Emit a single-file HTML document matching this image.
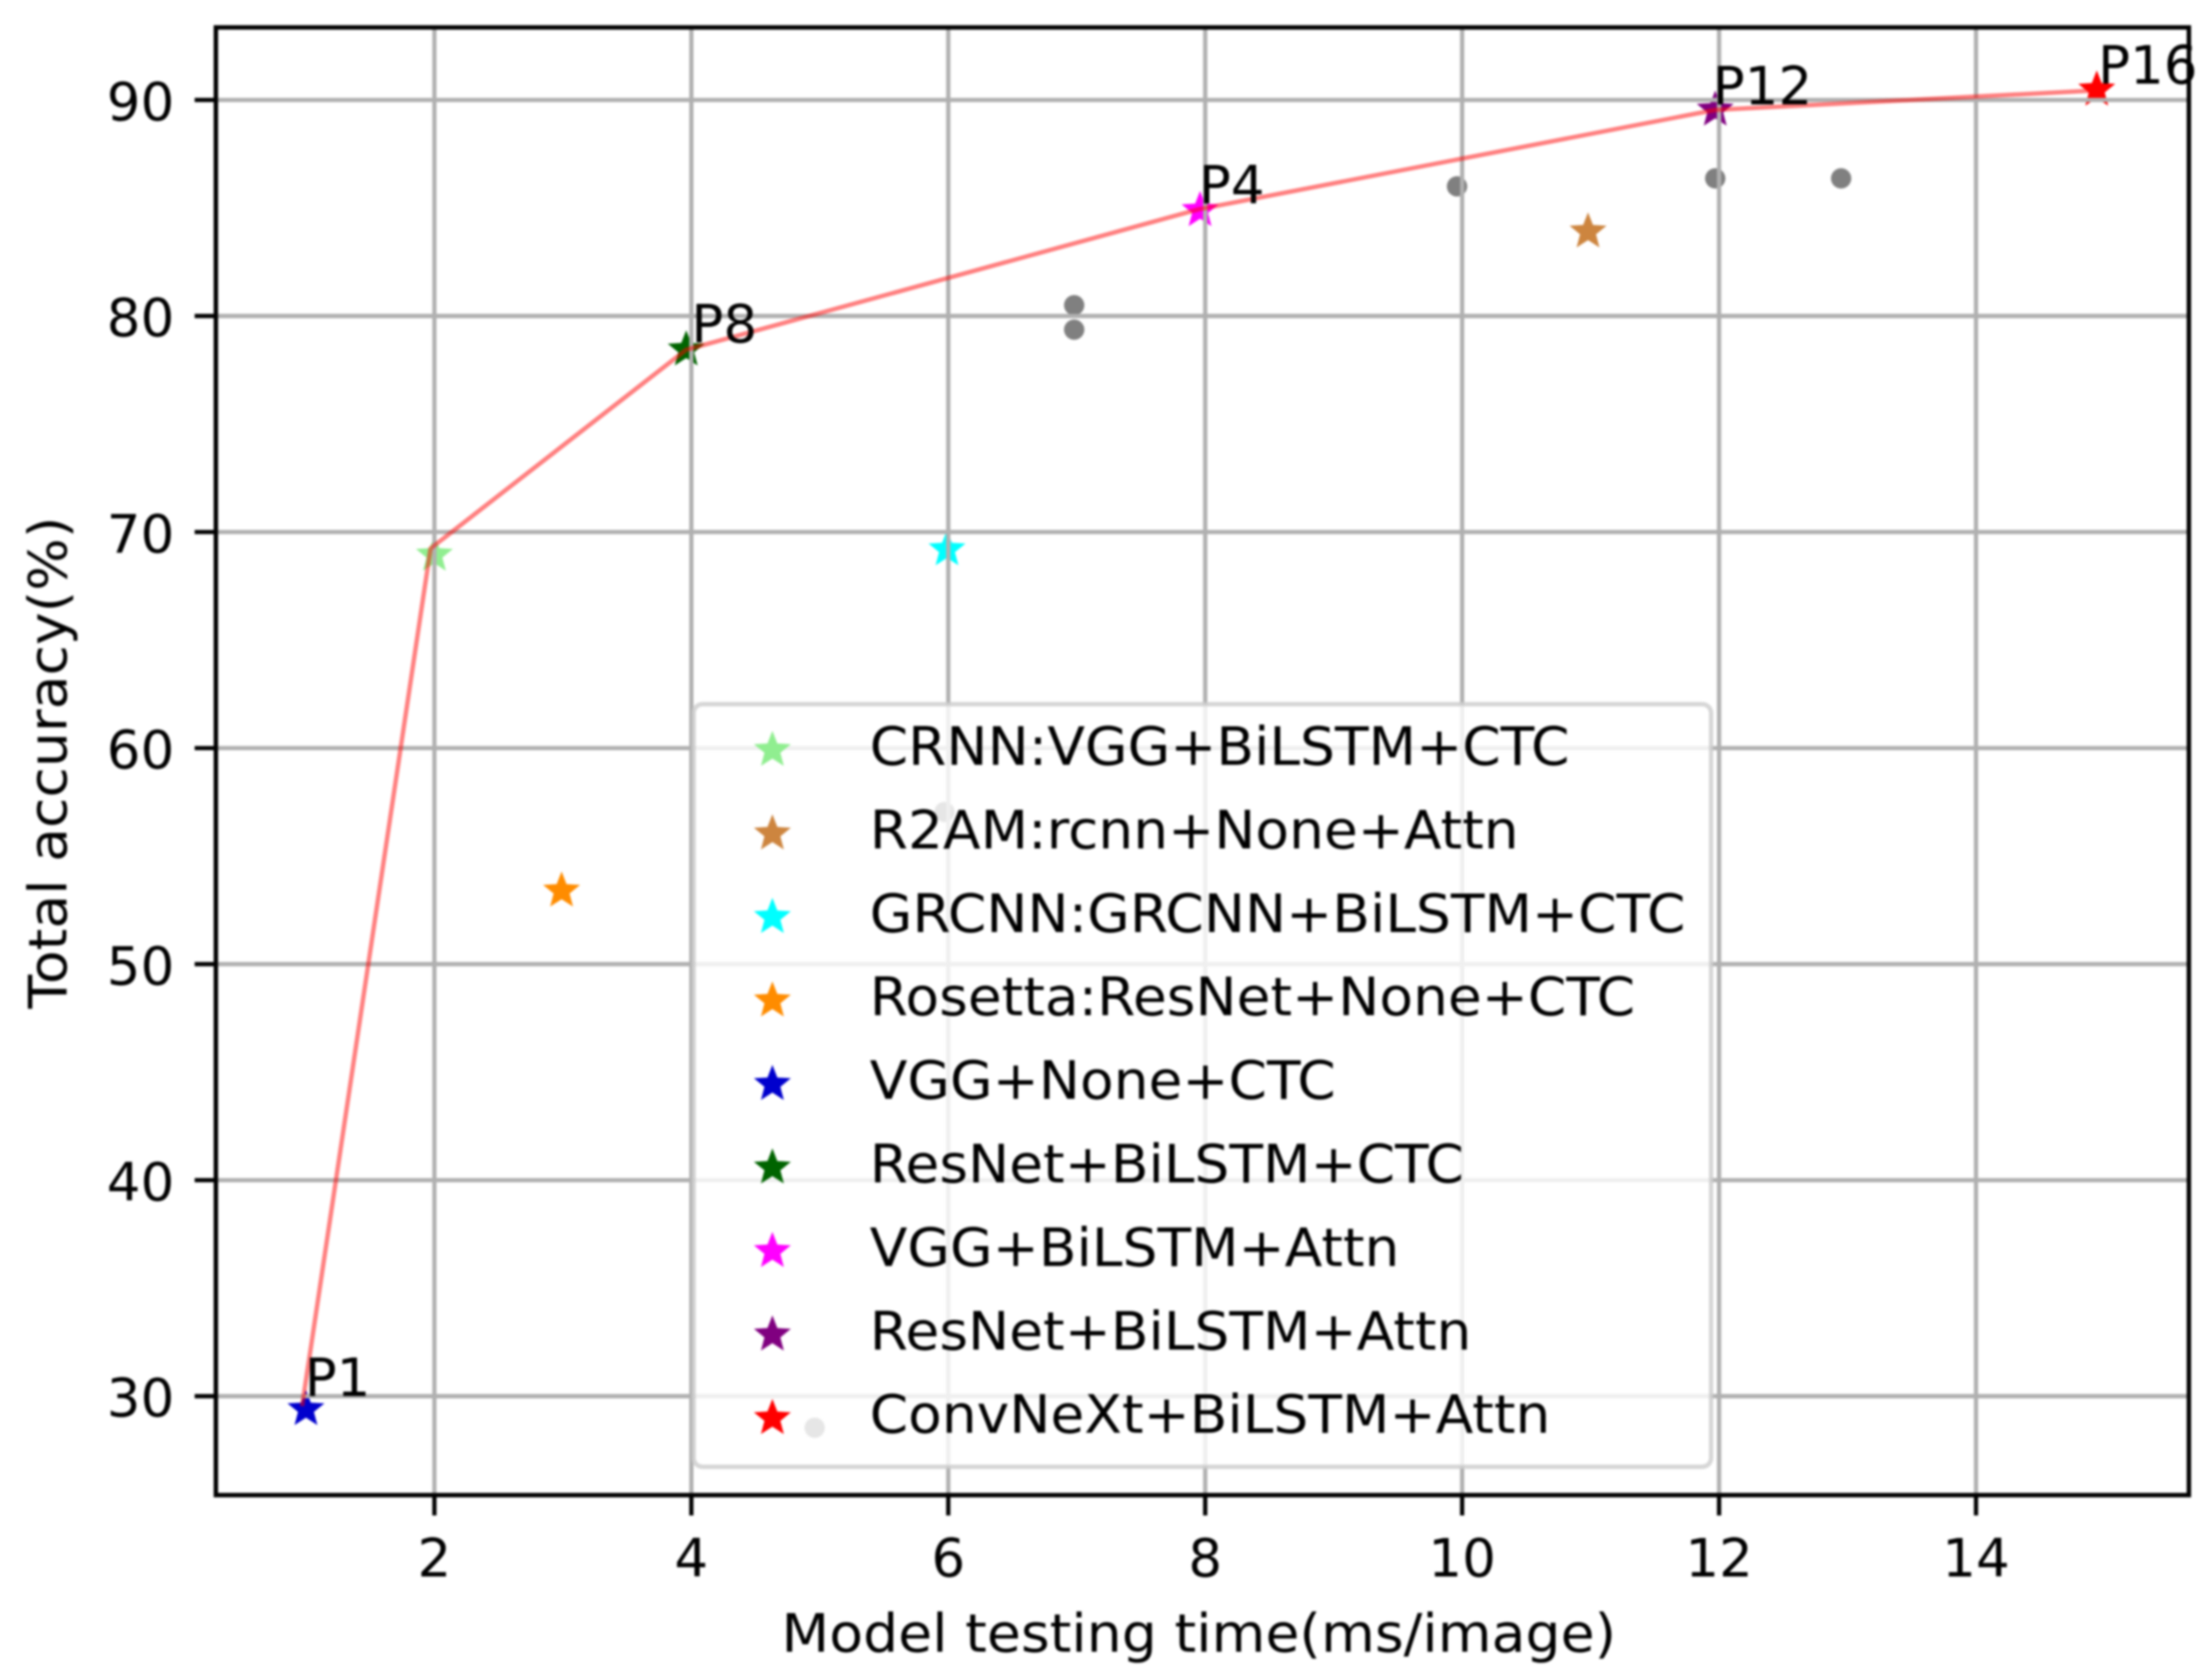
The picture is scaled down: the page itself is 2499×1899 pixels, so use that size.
<!DOCTYPE html>
<html lang="en">
<head>
<meta charset="utf-8">
<title>Model testing time vs total accuracy</title>
<style>
  html, body { margin: 0; padding: 0; background: #ffffff; }
  svg { display: block; }
  text { font-family: "DejaVu Sans", "Liberation Sans", sans-serif; font-size: 60px; fill: #000000; }
</style>
</head>
<body>
<svg id="chart" xmlns="http://www.w3.org/2000/svg" width="2499" height="1899" viewBox="0 0 2499 1899">
  <rect x="0" y="0" width="2499" height="1899" fill="#ffffff"></rect>
  <g id="root" style="filter: blur(1.3px)"></g>
</svg>
<script>
// ---- chart data ----
const modelNames = ["CRNN:VGG+BiLSTM+CTC", "R2AM:rcnn+None+Attn", "GRCNN:GRCNN+BiLSTM+CTC", "Rosetta:ResNet+None+CTC", "VGG+None+CTC", "ResNet+BiLSTM+CTC", "VGG+BiLSTM+Attn", "ResNet+BiLSTM+Attn", "ConvNeXt+BiLSTM+Attn"];
const modelColors = ["#90ee90", "#cd853f", "#00ffff", "#ff8c00", "#0000cd", "#006400", "#ff00ff", "#800080", "#ff0000"];
const modelTimes = [2.0, 10.98, 5.99, 2.99, 1.0, 3.96, 7.96, 11.97, 14.94];
const modelAccuracy = [68.94, 83.9, 69.19, 53.39, 29.39, 78.44, 84.89, 89.54, 90.47];

const otherTimes = [6.98, 6.98, 9.96, 11.97, 12.95, 4.96, 5.97];
const otherAccuracy = [80.5, 79.37, 86.0, 86.37, 86.37, 28.54, 57.04];

const frontierTimes = [0.97, 1.97, 3.96, 7.95, 11.97, 14.93];
const frontierAccuracy = [29.54, 69.24, 78.44, 84.94, 89.54, 90.44];

const pointLabels = ["P1", "P8", "P4", "P12", "P16"];
const pointLabelTimes = [0.99, 4.0, 7.95, 11.95, 14.95];
const pointLabelAccuracy = [30.0, 78.78, 85.21, 89.79, 90.75];

const xTickValues = [2, 4, 6, 8, 10, 12, 14];
const yTickValues = [30, 40, 50, 60, 70, 80, 90];
const xAxisTitle = "Model testing time(ms/image)";
const yAxisTitle = "Total accuracy(%)";

// ---- axis functions ----
function xScale(v) { return 491 + (v - 2) * 145.2; }
function yScale(v) { return 113 + (90 - v) * 24.42; }

const SVG_NS = "http://www.w3.org/2000/svg";
const root = document.getElementById("root");
const plot = { left: 244, right: 2474, top: 31, bottom: 1690 };

function make(tag, attrs, parent) {
  const el = document.createElementNS(SVG_NS, tag);
  for (const k in attrs) el.setAttribute(k, attrs[k]);
  (parent || root).appendChild(el);
  return el;
}
function starPoints(cx, cy, R) {
  const pts = [];
  const r = R * 0.43;
  for (let i = 0; i < 10; i++) {
    const a = -Math.PI / 2 + i * Math.PI / 5;
    const rad = i % 2 === 0 ? R : r;
    pts.push((cx + rad * Math.cos(a)).toFixed(2) + "," + (cy + rad * Math.sin(a)).toFixed(2));
  }
  return pts.join(" ");
}
const STAR_R = 22;

// scatter sits beneath the grid
otherTimes.forEach(function (t, i) {
  const dot = make("circle", { cx: xScale(t), cy: yScale(otherAccuracy[i]), r: 11.5, fill: "#808080" });
  
  
});
modelNames.forEach(function (name, i) {
  const star = make("polygon", { points: starPoints(xScale(modelTimes[i]), yScale(modelAccuracy[i]), STAR_R), fill: modelColors[i] });
  
  
});

// grid lines
xTickValues.forEach(function (v) {
  const g = make("line", { x1: xScale(v), x2: xScale(v), y1: plot.top, y2: plot.bottom, stroke: "#b0b0b0", "stroke-width": 4.8 });
  
  
});
yTickValues.forEach(function (v) {
  const g = make("line", { x1: plot.left, x2: plot.right, y1: yScale(v), y2: yScale(v), stroke: "#b0b0b0", "stroke-width": 4.8 });
  
  
});

// frontier line
const frontier = make("polyline", {
  points: frontierTimes.map(function (t, i) { return xScale(t) + "," + yScale(frontierAccuracy[i]); }).join(" "),
  fill: "none", stroke: "#ff0000", "stroke-opacity": 0.5, "stroke-width": 5, "stroke-linejoin": "round"
});



// ticks and tick labels
xTickValues.forEach(function (v) {
  const t = make("line", { x1: xScale(v), x2: xScale(v), y1: plot.bottom, y2: plot.bottom + 23, stroke: "#000000", "stroke-width": 4.8 });
  
  
  const l = make("text", { x: xScale(v), y: 1782, "text-anchor": "middle" });
  l.textContent = String(v);
  
  
});
yTickValues.forEach(function (v) {
  const t = make("line", { x1: plot.left - 24, x2: plot.left, y1: yScale(v), y2: yScale(v), stroke: "#000000", "stroke-width": 4.8 });
  
  
  const l = make("text", { x: 197, y: yScale(v) + 23, "text-anchor": "end" });
  l.textContent = String(v);
  
  
});

// axes frame
const frame = make("rect", { x: plot.left, y: plot.top, width: plot.right - plot.left, height: plot.bottom - plot.top, fill: "none", stroke: "#000000", "stroke-width": 5 });



// point annotations
pointLabels.forEach(function (txt, i) {
  const a = make("text", { x: xScale(pointLabelTimes[i]), y: yScale(pointLabelAccuracy[i]) });
  a.textContent = txt;
  
  
});

// axis titles
const xt = make("text", { x: 0, y: 0, "text-anchor": "middle", transform: "translate(1355 1867) scale(1.042 1)" });
xt.textContent = xAxisTitle;



const yt = make("text", { x: 0, y: 0, "text-anchor": "middle", transform: "translate(75 862) rotate(-90) scale(1.042 1)" });
yt.textContent = yAxisTitle;



// legend
const legend = make("g", {});



const box = make("rect", { x: 784, y: 796, width: 1150, height: 862, rx: 10, ry: 10, fill: "#ffffff", "fill-opacity": 0.8, stroke: "#cccccc", "stroke-opacity": 0.8, "stroke-width": 5 }, legend);



modelNames.forEach(function (name, i) {
  const rowY = 848 + i * 94.4;
  const s = make("polygon", { points: starPoints(873, rowY, STAR_R), fill: modelColors[i] }, legend);
  
  
  const t = make("text", { x: 0, y: 0, transform: "translate(983 " + (rowY + 16.5) + ") scale(1.037 1)" }, legend);
  t.textContent = name;
  
  
});
</script>
</body>
</html>
